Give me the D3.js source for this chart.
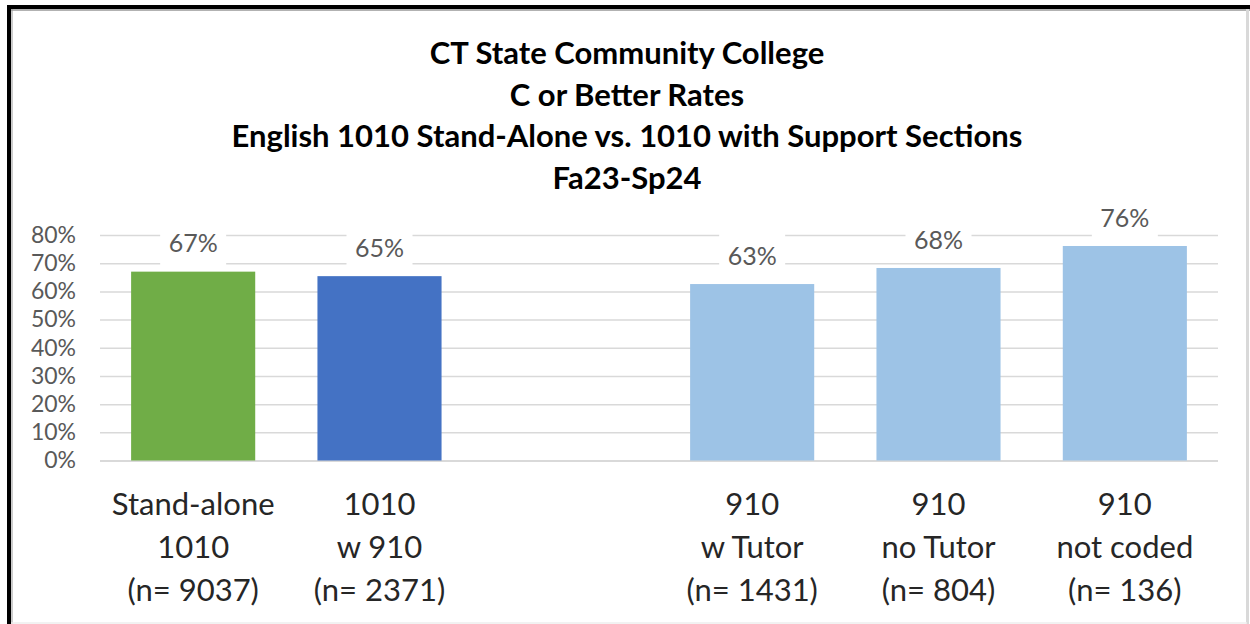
<!DOCTYPE html>
<html>
<head>
<meta charset="utf-8">
<script src="https://cdn.jsdelivr.net/npm/d3@7"></script>
<style>
  body { margin: 0; background: #fff; }
  svg { display: block; font-family: Lato, "Open Sans", sans-serif; }
</style>
</head>
<body>
<script>

// chart data
var titleLines = ["CT State Community College", "C or Better Rates",
                  "English 1010 Stand-Alone vs. 1010 with Support Sections", "Fa23-Sp24"];

// third slot is an empty gap between the two groups
var categories = ["sa", "w910", "gap", "tutor", "notutor", "notcoded"];
var catLabels = [
  ["Stand-alone", "1010", "(n= 9037)"],
  ["1010", "w 910", "(n= 2371)"],
  [],
  ["910", "w Tutor", "(n= 1431)"],
  ["910", "no Tutor", "(n= 804)"],
  ["910", "not coded", "(n= 136)"]
];
var values = [0.67, 0.654, null, 0.626, 0.683, 0.761];
var barColors = ["#70AD47", "#4472C4", null, "#9DC3E6", "#9DC3E6", "#9DC3E6"];
var yTicks = [0, 0.1, 0.2, 0.3, 0.4, 0.5, 0.6, 0.7, 0.8];

window.onload = function() {

  var w = 1250, h = 624;
  var pad = { left: 100, right: 32, top: 235, bottom: 163.5 };

  var svg = d3.select("body").append("svg")
      .attr("width", w)
      .attr("height", h);

  // frame round the picture
  svg.append("line").attr("x1", 9).attr("x2", 9).attr("y1", 5).attr("y2", h)
      .attr("stroke", "#000").attr("stroke-width", 4);
  svg.append("line").attr("x1", 7).attr("x2", w).attr("y1", 7).attr("y2", 7)
      .attr("stroke", "#000").attr("stroke-width", 4);
  svg.append("line").attr("x1", 12).attr("x2", 12).attr("y1", 9).attr("y2", h)
      .attr("stroke", "#bbb").attr("stroke-width", 1.5);
  svg.append("line").attr("x1", 11).attr("x2", w).attr("y1", 10).attr("y2", 10)
      .attr("stroke", "#999").attr("stroke-width", 1.5);
  svg.append("line").attr("x1", 1247.5).attr("x2", 1247.5).attr("y1", 9).attr("y2", h)
      .attr("stroke", "#d9d9d9").attr("stroke-width", 3);
  svg.append("line").attr("x1", 11).attr("x2", 1247).attr("y1", 623).attr("y2", 623)
      .attr("stroke", "#eee").attr("stroke-width", 1.5);

  // title
  svg.append("g").selectAll("text")
      .data(titleLines)
      .enter()
    .append("text")
      .attr("x", 627)
      .attr("y", function(d, i) { return 64 + i * 41.5; })
      .attr("text-anchor", "middle")
      .attr("font-weight", "bold")
      .attr("font-size", 31)
      .attr("fill", "#000")
      .text(function(d) { return d; });

  var xScale = d3.scaleBand()
      .domain(categories)
      .range([pad.left, w - pad.right])
      .paddingInner(0.334)
      .paddingOuter(0.167);

  var yScale = d3.scaleLinear()
      .domain([0, 0.8])
      .range([h - pad.bottom, pad.top]);

  // gridlines + y labels
  var yAxis = d3.axisLeft(yScale)
      .tickValues(yTicks)
      .tickSize(-(w - pad.right - pad.left))
      .tickPadding(24)
      .tickFormat(d3.format(".0%"));

  var gy = svg.append("g")
      .attr("transform", "translate(" + pad.left + ",0)")
      .call(yAxis);
  gy.select(".domain").remove();
  gy.selectAll(".tick line")
      .attr("stroke", "#d9d9d9")
      .attr("stroke-width", function(d) { return d === 0 ? 2 : 1.5; });
  gy.selectAll(".tick text")
      .attr("fill", "#595959")
      .attr("font-size", 23)
      .attr("font-family", "Lato, sans-serif");

  var bars = categories.map(function(c, i) {
    return { key: c, value: values[i], color: barColors[i] };
  }).filter(function(d) { return d.value !== null; });

  svg.selectAll("rect.bar")
      .data(bars)
      .enter()
    .append("rect")
      .attr("class", "bar")
      .attr("x", function(d) { return xScale(d.key); })
      .attr("y", function(d) { return yScale(d.value); })
      .attr("width", xScale.bandwidth())
      .attr("height", function(d) { return yScale(0) - yScale(d.value); })
      .attr("fill", function(d) { return d.color; });

  // data labels sit on a white box, so they cut the gridlines
  var lab = svg.selectAll("g.lab")
      .data(bars)
      .enter()
    .append("g")
      .attr("class", "lab")
      .attr("transform", function(d) {
        return "translate(" + (xScale(d.key) + xScale.bandwidth() / 2) + "," + (yScale(d.value) - 28) + ")";
      });
  lab.append("rect")
      .attr("x", -33).attr("y", -22)
      .attr("width", 66).attr("height", 44)
      .attr("fill", "#fff");
  lab.append("text")
      .attr("text-anchor", "middle")
      .attr("dy", "0.35em")
      .attr("font-size", 25)
      .attr("fill", "#595959")
      .text(function(d) { return d3.format(".0%")(d.value); });

  // category labels, three lines each
  var cat = svg.selectAll("g.cat")
      .data(categories)
      .enter()
    .append("g")
      .attr("class", "cat")
      .attr("transform", function(d) {
        return "translate(" + (xScale(d) + xScale.bandwidth() / 2) + ",0)";
      });
  cat.selectAll("text")
      .data(function(d, i) { return catLabels[i]; })
      .enter()
    .append("text")
      .attr("text-anchor", "middle")
      .attr("y", function(d, i) { return 515 + i * 43; })
      .attr("font-size", 31)
      .attr("fill", "#262626")
      .text(function(d) { return d; });

};
</script>
</body>
</html>
